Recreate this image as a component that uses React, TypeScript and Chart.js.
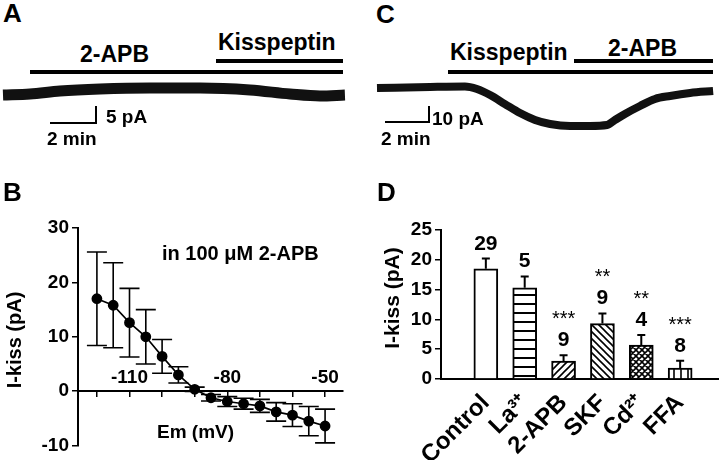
import React, { useEffect, useRef } from 'react';
import { Chart, registerables } from 'chart.js';

Chart.register(...registerables);

const FONT = "'Liberation Sans', Arial, Helvetica, sans-serif";

// ---------- Panel A: holding current trace (time in min, current in pA vs baseline)
const traceATime = [0, 1.2, 2.53, 4.31, 6.53, 8.76, 10.98, 12.76, 14.09, 15.2];
const traceACurrent = [0, 0.33, 1.33, 2.0, 2.33, 2.33, 1.67, 0.33, -0.33, 0];

// ---------- Panel C: holding current trace
const traceCTime = [0, 2.47, 4.09, 4.65, 5.26, 5.95, 6.65, 7.35, 8.05, 8.98, 9.91, 10.7, 11.07, 11.53, 12.23, 12.93, 13.63, 14.56, 15.63];
const traceCCurrent = [0, 0.7, 1.0, -0.7, -4.7, -10.7, -16.7, -21.3, -24, -25.3, -25.3, -24.7, -21.3, -17.3, -12, -7.3, -5.3, -3.3, -2];

// ---------- Panel B: I-V relation
const emMV = [-120, -115, -110, -105, -100, -95, -90, -85, -80, -75, -70, -65, -60, -55, -50];
const iKiss = [17.0, 15.8, 12.6, 10.0, 6.4, 3.0, 0.35, -1.2, -1.9, -2.3, -2.7, -3.8, -4.4, -5.5, -6.4];
const iKissSem = [8.6, 7.8, 6.3, 5.0, 3.1, 1.5, 0.4, 0.6, 0.9, 1.0, 1.2, 1.7, 2.1, 2.7, 3.1];
const emTickLabels = [-110, -80, -50];
const iTicks = [-10, 0, 10, 20, 30];

// ---------- Panel D: bar chart
const groups = ['Control', 'La\u00B3\u207A', '2-APB', 'SKF', 'Cd\u00B2\u207A', 'FFA'];
const groupMean = [18.5, 15.3, 3.0, 9.3, 5.7, 1.85];
const groupSem = [1.7, 1.9, 1.0, 1.7, 1.7, 1.2];
const groupN = [29, 5, 9, 9, 4, 8];
const groupSig = ['', '', '***', '**', '**', '***'];

const groupFill = ['none', 'h', 'f', 'b', 'x', 'v'];

function makePattern(kind: string): any {
  if (kind === 'none') return '#ffffff';
  const s = kind === 'h' ? 9 : kind === 'v' ? 7 : kind === 'x' ? 6 : 7;
  const c = document.createElement('canvas');
  c.width = s;
  c.height = s;
  const g = c.getContext('2d') as CanvasRenderingContext2D;
  g.fillStyle = '#fff';
  g.fillRect(0, 0, s, s);
  g.strokeStyle = '#000';
  g.lineWidth = kind === 'h' ? 2 : 1.6;
  g.beginPath();
  if (kind === 'h') { g.moveTo(0, s - 1); g.lineTo(s, s - 1); }
  if (kind === 'v') { g.moveTo(s - 1, 0); g.lineTo(s - 1, s); }
  if (kind === 'f' || kind === 'x') {
    g.moveTo(0, s); g.lineTo(s, 0);
    g.moveTo(-1, 1); g.lineTo(1, -1);
    g.moveTo(s - 1, s + 1); g.lineTo(s + 1, s - 1);
  }
  if (kind === 'b' || kind === 'x') {
    g.moveTo(0, 0); g.lineTo(s, s);
    g.moveTo(-1, s - 1); g.lineTo(1, s + 1);
    g.moveTo(s - 1, -1); g.lineTo(s + 1, 1);
  }
  g.stroke();
  return g.createPattern(c, 'repeat');
}

const baseOpts = {
  animation: false as const,
  responsive: false,
  events: [] as any[],
  plugins: { legend: { display: false }, tooltip: { enabled: false } },
};

function ChartBox(props: { left: number; top: number; width: number; height: number; make: () => any }) {
  const ref = useRef<HTMLCanvasElement>(null);
  useEffect(() => {
    const chart = new Chart(ref.current as HTMLCanvasElement, props.make());
    return () => chart.destroy();
  }, []);
  return (
    <div style={{ position: 'absolute', left: props.left, top: props.top, width: props.width, height: props.height }}>
      <canvas ref={ref} width={props.width} height={props.height} style={{ width: props.width, height: props.height, display: 'block' }} />
    </div>
  );
}

function traceConfig(time: number[], cur: number[], xmin: number, xmax: number, ymin: number, ymax: number, lw: number) {
  return {
    type: 'line',
    data: {
      datasets: [{
        data: time.map((t, i) => ({ x: t, y: cur[i] })),
        borderColor: '#111',
        borderWidth: lw,
        pointRadius: 0,
        cubicInterpolationMode: 'monotone',
      }],
    },
    options: {
      ...baseOpts,
      layout: { padding: 0 },
      scales: {
        x: { type: 'linear', display: false, min: xmin, max: xmax },
        y: { type: 'linear', display: false, min: ymin, max: ymax },
      },
    },
  };
}

const errorBarsB = {
  id: 'errB',
  beforeDatasetsDraw(chart: any) {
    const { ctx } = chart;
    const x = chart.scales.x;
    const y = chart.scales.y;
    ctx.save();
    ctx.strokeStyle = '#000';
    ctx.lineWidth = 1.6;
    emMV.forEach((e, i) => {
      const px = x.getPixelForValue(e);
      const t = y.getPixelForValue(iKiss[i] + iKissSem[i]);
      const b = y.getPixelForValue(iKiss[i] - iKissSem[i]);
      ctx.beginPath();
      ctx.moveTo(px, t); ctx.lineTo(px, b);
      ctx.moveTo(px - 10, t); ctx.lineTo(px + 10, t);
      ctx.moveTo(px - 10, b); ctx.lineTo(px + 10, b);
      ctx.stroke();
    });
    ctx.restore();
  },
};

function configB() {
  return {
    type: 'line',
    data: {
      datasets: [{
        data: emMV.map((v, i) => ({ x: v, y: iKiss[i] })),
        borderColor: '#000',
        borderWidth: 1.6,
        pointRadius: 4.6,
        pointBackgroundColor: '#000',
        pointBorderColor: '#000',
        tension: 0,
      }],
    },
    options: {
      ...baseOpts,
      layout: { padding: { top: 58, right: 17, bottom: 9, left: 0 } },
      scales: {
        x: {
          type: 'linear',
          position: { y: 0 },
          min: -125.8,
          max: -44.5,
          grid: { display: true, drawOnChartArea: false, drawTicks: true, tickLength: 5, color: '#000', lineWidth: 1.5 },
          border: { display: true, color: '#000', width: 2 },
          ticks: {
            stepSize: 10,
            includeBounds: false,
            autoSkip: false,
            maxRotation: 0,
            minRotation: 0,
            padding: -30,
            color: '#000',
            font: { family: FONT, size: 19, weight: 'bold' },
            callback: (v: number) => (emTickLabels.includes(v) ? String(v) : ''),
          },
        },
        y: {
          type: 'linear',
          min: iTicks[0],
          max: iTicks[iTicks.length - 1],
          afterFit: (s: any) => { s.width = 78; },
          grid: { drawOnChartArea: false, tickLength: 6, color: '#000', lineWidth: 1.5 },
          border: { display: true, color: '#000', width: 2 },
          ticks: { stepSize: 10, padding: 3, color: '#000', font: { family: FONT, size: 19, weight: 'bold' } },
        },
      },
    },
    plugins: [errorBarsB],
  };
}

const annotD = {
  id: 'annotD',
  afterDatasetsDraw(chart: any) {
    const { ctx } = chart;
    const x = chart.scales.x;
    const y = chart.scales.y;
    ctx.save();
    ctx.strokeStyle = '#000';
    ctx.fillStyle = '#000';
    ctx.lineWidth = 2;
    groupMean.forEach((m, i) => {
      const px = x.getPixelForValue(i + 1);
      const top = y.getPixelForValue(m);
      const et = y.getPixelForValue(m + groupSem[i]);
      ctx.beginPath();
      ctx.moveTo(px, top); ctx.lineTo(px, et);
      ctx.moveTo(px - 4, et); ctx.lineTo(px + 4, et);
      ctx.stroke();
      ctx.textAlign = 'center';
      ctx.textBaseline = 'alphabetic';
      ctx.font = `bold 21px ${FONT}`;
      ctx.fillText(String(groupN[i]), px, et - 9);
      if (groupSig[i]) {
        ctx.font = `20px ${FONT}`;
        ctx.fillText(groupSig[i], px, et - 30);
      }
    });
    ctx.restore();
  },
};

function configD() {
  return {
    type: 'bar',
    data: {
      datasets: [{
        data: groupMean.map((v, i) => ({ x: i + 1, y: v })),
        backgroundColor: groupFill.map(makePattern),
        borderColor: '#000',
        borderWidth: 2,
        barThickness: 24,
      }],
    },
    options: {
      ...baseOpts,
      layout: { padding: { top: 60, right: 2, bottom: 0, left: 0 } },
      scales: {
        x: {
          type: 'linear',
          min: -0.154,
          max: 6.974,
          offset: false,
          afterFit: (s: any) => { s.height = 81; },
          grid: { display: false, offset: false },
          border: { display: true, color: '#000', width: 2 },
          ticks: {
            stepSize: 1,
            includeBounds: false,
            autoSkip: false,
            minRotation: 45,
            maxRotation: 45,
            padding: 2,
            color: '#000',
            font: { family: FONT, size: 24, weight: 'bold' },
            callback: (v: number) => (Number.isInteger(v) && v >= 1 && v <= groups.length ? groups[v - 1] : ''),
          },
        },
        y: {
          type: 'linear',
          min: 0,
          max: 25,
          afterFit: (s: any) => { s.width = 81; },
          grid: { drawOnChartArea: false, tickLength: 6, color: '#000', lineWidth: 1.5 },
          border: { display: true, color: '#000', width: 2 },
          ticks: { stepSize: 5, padding: 3, color: '#000', font: { family: FONT, size: 19, weight: 'bold' } },
        },
      },
    },
    plugins: [annotD],
  };
}

function T(p: { x: number; base: number; size: number; text: string; weight?: string }) {
  return (
    <div style={{
      position: 'absolute', left: p.x, top: p.base - 0.8465 * p.size, fontSize: p.size, lineHeight: 1,
      fontWeight: (p.weight || 'bold') as any, whiteSpace: 'nowrap',
    }}>{p.text}</div>
  );
}

function VT(p: { cx: number; cy: number; size: number; text: string }) {
  return (
    <div style={{
      position: 'absolute', left: p.cx, top: p.cy, fontSize: p.size, lineHeight: 1, fontWeight: 'bold',
      whiteSpace: 'nowrap', transform: 'translate(-50%, -50%) rotate(-90deg)',
    }}>{p.text}</div>
  );
}

function Bar(p: { l: number; t: number; w: number; h: number }) {
  return <div style={{ position: 'absolute', left: p.l, top: p.t, width: p.w, height: p.h, background: '#000' }} />;
}

export default function App() {
  return (
    <div style={{ position: 'fixed', left: 0, top: 0, width: 720, height: 460, background: '#fff', overflow: 'hidden', fontFamily: FONT, color: '#000' }}>
      {/* Panel A */}
      <ChartBox left={0} top={75} width={360} height={40}
        make={() => traceConfig(traceATime, traceACurrent, -0.133, 15.87, -6.67, 6.67, 11)} />
      <T x={3} base={22} size={26} text="A" />
      <T x={80} base={62} size={23} text="2-APB" />
      <T x={218} base={50} size={23} text="Kisspeptin" />
      <Bar l={30} t={70} w={313} h={4} />
      <Bar l={216} t={59} w={127} h={4} />
      <Bar l={50} t={122} w={47} h={2} />
      <Bar l={95} t={106} w={2} h={18} />
      <T x={106} base={123} size={19} text="5 pA" />
      <T x={47} base={145} size={19} text="2 min" />

      {/* Panel C */}
      <ChartBox left={360} top={75} width={360} height={60}
        make={() => traceConfig(traceCTime, traceCCurrent, -0.79, 15.95, -31.33, 8.67, 8)} />
      <T x={376} base={23} size={26} text="C" />
      <T x={450} base={60} size={23} text="Kisspeptin" />
      <T x={608} base={56} size={23} text="2-APB" />
      <Bar l={448} t={70} w={265} h={4} />
      <Bar l={574} t={59} w={139} h={4} />
      <Bar l={385} t={121} w={45} h={2} />
      <Bar l={428} t={106} w={2} h={17} />
      <T x={432} base={125} size={19} text="10 pA" />
      <T x={381} base={145} size={19} text="2 min" />

      {/* Panel B */}
      <ChartBox left={0} top={170} width={360} height={290} make={configB} />
      <T x={3} base={201} size={26} text="B" />
      <T x={162} base={260} size={20} text={'in 100 \u03BCM 2-APB'} />
      <T x={157} base={438} size={19} text="Em (mV)" />
      <VT cx={14} cy={340} size={20} text="I-kiss (pA)" />

      {/* Panel D */}
      <ChartBox left={360} top={170} width={360} height={290} make={configD} />
      <T x={377} base={201} size={26} text="D" />
      <VT cx={391} cy={298} size={21} text="I-kiss (pA)" />
    </div>
  );
}
